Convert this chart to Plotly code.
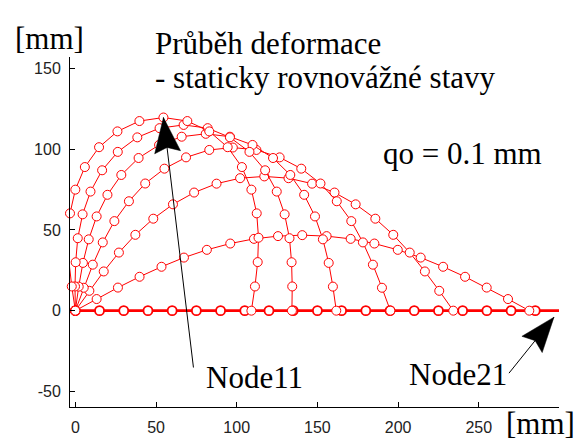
import numpy as np
import plotly.graph_objects as go

# ---- data: node coordinates [mm] of the 21-node bar in each equilibrium state ----
x_s0 = [0, 15, 30, 45, 60, 75, 90, 105, 120, 135, 150, 165, 180, 195, 210, 225, 240, 255, 270, 285, 300]
y_s0 = [0, 0, 0, 0, 0, 0, 0, 0, 0, 0, 0, 0, 0, 0, 0, 0, 0, 0, 0, 0, 0]

x_s1 = [0, 13.2, 26.4, 39.8, 53.4, 67.3, 81.5, 96.0, 110.7, 125.6, 140.6, 155.7, 170.6, 185.3, 199.8, 214.0, 227.9, 241.5, 254.9, 268.1, 281.3]
y_s1 = [0, 7.2, 14.3, 21.0, 27.2, 32.9, 37.7, 41.6, 44.5, 46.2, 46.8, 46.2, 44.5, 41.6, 37.7, 32.9, 27.2, 21.0, 14.3, 7.2, 0]

x_s2 = [0, 8.7, 17.6, 27.0, 37.2, 48.3, 60.5, 73.6, 87.5, 102.1, 117.1, 132.1, 146.7, 160.6, 173.7, 185.9, 197.0, 207.2, 216.6, 225.5, 234.2]
y_s2 = [0, 12.3, 24.3, 36.0, 47.0, 57.0, 65.9, 73.2, 78.7, 82.1, 83.2, 82.1, 78.7, 73.2, 65.9, 57.0, 47.0, 36.0, 24.3, 12.3, 0]

x_s3 = [0, 5.2, 10.8, 17.0, 24.2, 33.2, 43.3, 55.2, 68.6, 83.0, 97.6, 112.2, 126.6, 140.0, 151.9, 162.0, 171.0, 178.2, 184.4, 190.0, 195.2]
y_s3 = [0, 14.2, 28.5, 42.3, 55.5, 67.8, 78.8, 88.0, 95.0, 99.6, 101.1, 99.6, 95.0, 88.0, 78.8, 67.8, 55.5, 42.3, 28.5, 14.2, 0]

x_s4 = [0, 2.1, 4.7, 8.3, 13.2, 19.9, 28.5, 39.2, 51.9, 65.9, 80.8, 95.8, 109.8, 122.5, 133.2, 141.8, 148.5, 153.4, 157.0, 159.6, 161.7]
y_s4 = [0, 14.9, 29.6, 44.2, 58.4, 71.8, 84.1, 94.6, 102.7, 107.8, 109.6, 107.8, 102.7, 94.6, 84.1, 71.8, 58.4, 44.2, 29.6, 14.9, 0]

x_s5 = [0, -0.2, 0.2, 1.5, 4.5, 9.4, 16.6, 26.3, 38.4, 52.2, 67.1, 82.0, 95.8, 107.9, 117.6, 124.8, 129.7, 132.7, 134.0, 134.4, 134.2]
y_s5 = [0, 15.0, 30.0, 44.9, 59.7, 73.8, 87.0, 98.4, 107.4, 113.1, 115.1, 113.1, 107.4, 98.4, 87.0, 73.8, 59.7, 44.9, 30.0, 15.0, 0]

x_s6 = [0, -2.2, -3.9, -4.4, -3.3, 0.0, 5.9, 14.7, 26.1, 39.7, 54.6, 69.4, 83.0, 94.4, 103.2, 109.1, 112.4, 113.5, 113.0, 111.3, 109.1]
y_s6 = [0, 15.0, 30.1, 45.2, 60.3, 75.0, 89.0, 101.3, 111.1, 117.5, 119.7, 117.5, 111.1, 101.3, 89.0, 75.0, 60.3, 45.2, 30.1, 15.0, 0]

x_ticks = [0, 50, 100, 150, 200, 250]
x_tick_labels = ["0", "50", "100", "150", "200", "250"]
y_ticks = [-50, 0, 50, 100, 150]
y_tick_labels = ["-50", "0", "50", "100", "150"]

states = [(x_s0, y_s0), (x_s1, y_s1), (x_s2, y_s2), (x_s3, y_s3),
          (x_s4, y_s4), (x_s5, y_s5), (x_s6, y_s6)]

# ---- layout geometry ----
W, H = 576, 441
ML, MR, MT, MB = 70, 17, 57, 34
PW, PH = W - ML - MR, H - MT - MB
x_range = [-3.3, 299.7]
y_range = [-59.7, 157.2]
RED = "#ff0000"

fig = go.Figure()
for i, (xs, ys) in enumerate(states):
    base = (i == 0)
    fig.add_trace(go.Scatter(
        x=xs, y=ys, mode="lines+markers", cliponaxis=False,
        line=dict(color=RED, width=2.6 if base else 1),
        marker=dict(symbol="circle", size=9, color="white",
                    line=dict(color=RED, width=1.8 if base else 1)),
        showlegend=False, hoverinfo="skip"))


def px(xp):
    return (xp - ML) / PW


def py(yp):
    return (H - MB - yp) / PH


SERIF = "Liberation Serif, Times New Roman, serif"
texts = [
    ("[mm]", 13, 38.5),
    ("Průběh deformace", 153, 43.5),
    ("- staticky rovnovážné stavy", 153, 77.5),
    ("qo = 0.1 mm", 381, 153.5),
    ("Node11", 204, 377.5),
    ("Node21", 407, 374.5),
    ("[mm]", 504, 423.0),
]
for t, xl, ym in texts:
    fig.add_annotation(text=t, xref="paper", yref="paper", x=px(xl), y=py(ym),
                       xanchor="left", yanchor="middle", showarrow=False,
                       font=dict(family=SERIF, size=31, color="black"))


def arrow(tip_x, tip_y, tip_off, tail_off, L=35.0, Wd=26.0, notch=0.86):
    """Pixel-sized arrow anchored at a data point (offsets in px, y up)."""
    tip = np.array(tip_off, float)
    tail = np.array(tail_off, float)
    d = tail - tip
    d = d / np.hypot(*d)
    n = np.array([-d[1], d[0]])
    c1 = tip + L * d + Wd / 2 * n
    c2 = tip + L * d - Wd / 2 * n
    nt = tip + notch * L * d
    common = dict(xref="x", yref="y", xsizemode="pixel", ysizemode="pixel",
                  xanchor=tip_x, yanchor=tip_y, layer="above")
    fig.add_shape(type="line", x0=tip[0], y0=tip[1], x1=tail[0], y1=tail[1],
                  line=dict(color="black", width=1), **common)
    path = "M {:.2f} {:.2f} L {:.2f} {:.2f} L {:.2f} {:.2f} L {:.2f} {:.2f} Z".format(
        tip[0], tip[1], c1[0], c1[1], nt[0], nt[1], c2[0], c2[1])
    fig.add_shape(type="path", path=path, fillcolor="black",
                  line=dict(color="black", width=0.5), **common)


# Node11 = middle node of the last state, Node21 = end node of the straight state
arrow(x_s6[10], y_s6[10], (0, 0), (30, -250))
arrow(x_s0[20], y_s0[20], (-5.5, -6.5), (-50.5, -62.5))

axis_common = dict(showline=True, linecolor="black", linewidth=1, mirror=False,
                   ticks="inside", ticklen=5, tickwidth=1, tickcolor="black",
                   showgrid=False, zeroline=False, automargin=False,
                   tickfont=dict(family="Liberation Sans, Arial, sans-serif", size=16, color="#222"))
fig.update_xaxes(range=x_range, tickmode="array", tickvals=x_ticks, ticktext=x_tick_labels,
                 ticklabelstandoff=6, **axis_common)
fig.update_yaxes(range=y_range, tickmode="array", tickvals=y_ticks, ticktext=y_tick_labels,
                 ticklabelstandoff=5, **axis_common)

fig.update_layout(width=W, height=H, autosize=False,
                  margin=dict(l=ML, r=MR, t=MT, b=MB, pad=0),
                  paper_bgcolor="white", plot_bgcolor="white")

fig.write_html("out.html")
